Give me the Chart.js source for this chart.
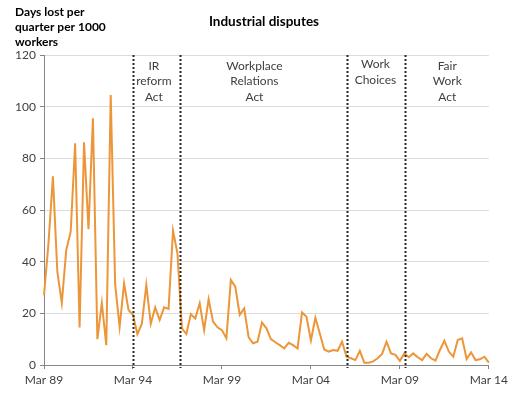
<!DOCTYPE html>
<html>
<head>
<meta charset="utf-8">
<script src="https://cdn.jsdelivr.net/npm/chart.js@4/dist/chart.umd.min.js"></script>
<style>
  html, body { margin: 0; padding: 0; background: #fff; }
  #chart { display: block; }
</style>
</head>
<body>
<canvas id="chart" width="512" height="397"></canvas>
<script>
// quarterly days lost per 1000 workers, Mar 89 .. Mar 14
const months = ['Mar', 'Jun', 'Sep', 'Dec'];
const firstYear = 1989;
const daysLost = [
  27, 47, 73, 36, 24, 44.5, 51.6, 85.8, 14.5, 86.2,
  52.6, 95.5, 10, 24, 7.7, 104.5, 31, 14.8, 31.6, 21.3,
  19.4, 11.9, 16, 31, 16, 22.3, 17.4, 22.3, 21.7, 52,
  43.2, 14.2, 12, 19.7, 18, 23.9, 13.5, 25.5, 16.8, 14.6,
  13.5, 10.3, 32.9, 30.3, 19.4, 21.9, 10.7, 8.4, 9, 16.4,
  14.2, 10, 8.8, 7.7, 6.4, 8.6, 7.7, 6.4, 20.4, 18.7,
  9.5, 18.3, 12.2, 6, 5.2, 5.8, 5.5, 9, 3.2, 2.6,
  1.9, 5.5, 0.9, 0.9, 1.4, 2.6, 4.3, 9, 4.5, 3.9,
  1.6, 4.5, 3, 4.5, 3, 1.9, 4.3, 2.6, 1.7, 5.8,
  9.4, 5.2, 3.2, 9.7, 10.3, 2.3, 4.9, 1.9, 2.2, 3.2,
  0.9
];
const quarterLabels = daysLost.map((v, i) => {
  const yr = (firstYear + Math.floor(i / 4)) % 100;
  return months[i % 4] + ' ' + String(yr).padStart(2, '0');
});

// legislation changes (position in quarters from Mar 89) and the text over each period
const reformLines = [20, 30.6, 68, 81.2];
const periodNames = [
  ['IR', 'reform', 'Act'],
  ['Workplace', 'Relations', 'Act'],
  ['Work', 'Choices'],
  ['Fair', 'Work', 'Act']
];
const periodCentres = [24.7, 47.3, 74.5, 90.65];

const chartTitle = 'Industrial disputes';
const yTitle = ['Days lost per', 'quarter per 1000', 'workers'];

const FONT = 'Lato, "Open Sans", sans-serif';

const overlay = {
  id: 'overlay',
  afterDatasetsDraw(chart) {
    const ctx = chart.ctx;
    const x = chart.scales.x;
    const area = chart.chartArea;
    ctx.save();
    // dotted lines
    ctx.strokeStyle = '#262626';
    ctx.lineWidth = 2;
    ctx.setLineDash([2, 2]);
    reformLines.forEach(q => {
      const px = Math.round(x.getPixelForValue(q)) + 0.5;
      ctx.beginPath();
      ctx.moveTo(px, area.top);
      ctx.lineTo(px, area.bottom + 3);
      ctx.stroke();
    });
    ctx.setLineDash([]);
    // period names
    ctx.fillStyle = '#404040';
    ctx.font = '12px ' + FONT;
    ctx.textAlign = 'center';
    ctx.textBaseline = 'middle';
    periodNames.forEach((lines, i) => {
      const px = x.getPixelForValue(periodCentres[i]);
      lines.forEach((t, j) => {
        const top = lines.length === 2 ? 64.5 : 65.8;
        ctx.fillText(t, px, top + j * 15.8);
      });
    });
    // titles
    ctx.fillStyle = '#000';
    ctx.font = 'bold 13.5px ' + FONT;
    ctx.fillText(chartTitle, 264, 22);
    ctx.font = 'bold 12px ' + FONT;
    ctx.textAlign = 'left';
    yTitle.forEach((t, j) => ctx.fillText(t, 15, 12.5 + j * 15));
    ctx.restore();
  }
};

new Chart(document.getElementById('chart'), {
  type: 'line',
  data: {
    labels: quarterLabels,
    datasets: [{
      label: 'Days lost',
      data: daysLost,
      borderColor: '#EC9639',
      borderWidth: 2,
      pointRadius: 0,
      tension: 0,
      fill: false
    }]
  },
  options: {
    responsive: false,
    animation: false,
    layout: { padding: { top: 55, right: 22, left: 0, bottom: 0 } },
    plugins: {
      legend: { display: false },
      tooltip: { enabled: false }
    },
    scales: {
      x: {
        offset: false,
        afterBuildTicks: s => { s.ticks = s.ticks.filter(t => t.value % 20 === 0); },
        afterFit: s => { s.height = 32; },
        grid: { drawOnChartArea: false, tickLength: 4, color: '#868686' },
        border: { color: '#868686' },
        ticks: {
          autoSkip: false,
          maxRotation: 0,
          padding: 4,
          color: '#404040',
          font: { family: FONT, size: 12 }
        }
      },
      y: {
        min: 0,
        max: 120,
        afterFit: s => { s.width = 44; },
        grid: { color: '#dcdcdc', tickLength: 4, tickColor: '#868686' },
        border: { color: '#868686' },
        ticks: {
          stepSize: 20,
          padding: 4,
          color: '#404040',
          font: { family: FONT, size: 12 }
        }
      }
    }
  },
  plugins: [overlay]
});
</script>
</body>
</html>
